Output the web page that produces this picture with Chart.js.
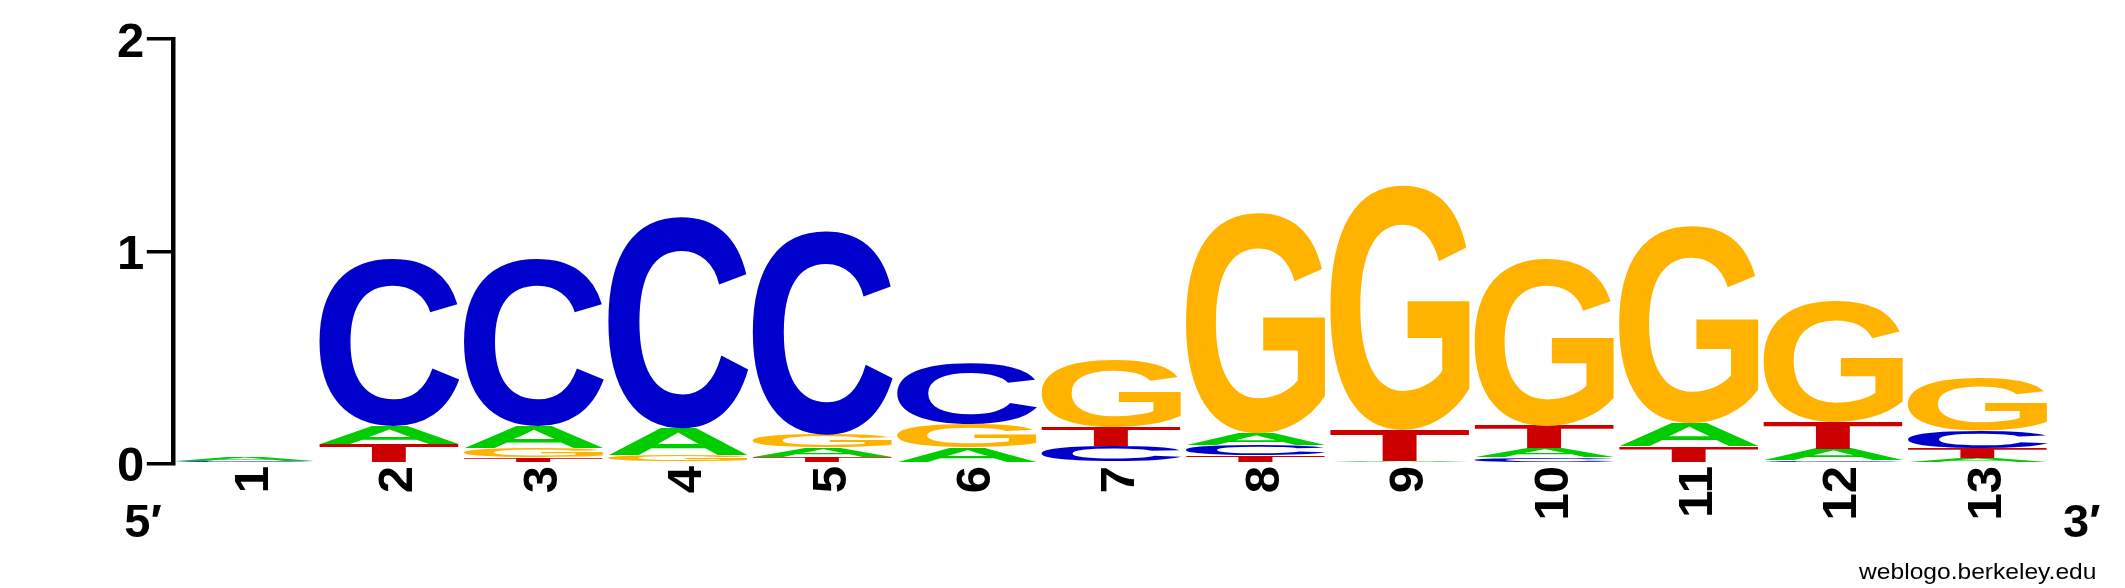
<!DOCTYPE html>
<html>
<head>
<meta charset="utf-8">
<script src="https://cdn.jsdelivr.net/npm/chart.js@4.4.1/dist/chart.umd.min.js"></script>
<style>
html,body{margin:0;padding:0;background:#fff;overflow:hidden}
#wrap{width:2125px;height:588px;position:relative}
canvas{display:block}
</style>
</head>
<body>
<div id="wrap"><canvas id="c" width="2125" height="588"></canvas></div>
<script>
// ---- data (bits per nucleotide at each position) ----
const positions = ['1','2','3','4','5','6','7','8','9','10','11','12','13'];
const bitsA = [0.020, 0.087, 0.103, 0.128, 0.045, 0.074, 0.010, 0.054, 0.014, 0.043, 0.109, 0.055, 0.024];
const bitsC = [0.012, 0.790, 0.790, 0.997, 0.960, 0.287, 0.074, 0.050, 0.000, 0.028, 0.000, 0.014, 0.081];
const bitsG = [0.000, 0.007, 0.045, 0.028, 0.060, 0.114, 0.317, 1.040, 1.154, 0.790, 0.930, 0.570, 0.247];
const bitsT = [0.000, 0.083, 0.028, 0.010, 0.030, 0.000, 0.089, 0.038, 0.144, 0.106, 0.081, 0.126, 0.047];
const yTicks = [0, 1, 2];
const endLabels = ['5\u2032', '3\u2032'];
const creditText = 'weblogo.berkeley.edu';

const letterColors = {A:'#00CC00', C:'#0000CC', G:'#FFB300', T:'#CC0000'};
const FONT = '"Liberation Sans", Arial, Helvetica, sans-serif';

// build stacked layers: each column sorted ascending (smallest at bottom)
const byLetter = {A:bitsA, C:bitsC, G:bitsG, T:bitsT};
const order = ['A','C','G','T'];
const layers = [0,1,2,3].map(() => ({data:[], letters:[]}));
positions.forEach((p, i) => {
  const entries = order.map(l => ({l, v: byLetter[l][i]}));
  entries.sort((a, b) => a.v - b.v);
  entries.forEach((e, k) => { layers[k].data.push(e.v); layers[k].letters.push(e.l); });
});

function drawLetter(ctx, L, x, y, w, h) {
  ctx.save();
  ctx.font = 'bold 200px ' + FONT;
  ctx.textAlign = 'left';
  ctx.textBaseline = 'alphabetic';
  const m = ctx.measureText(L);
  const gw = m.actualBoundingBoxLeft + m.actualBoundingBoxRight;
  const gh = m.actualBoundingBoxAscent + m.actualBoundingBoxDescent;
  ctx.translate(x, y);
  ctx.scale(w / gw, h / gh);
  ctx.fillStyle = letterColors[L];
  ctx.fillText(L, m.actualBoundingBoxLeft, m.actualBoundingBoxAscent);
  ctx.restore();
}

const logoPlugin = {
  id: 'logo',
  afterDatasetsDraw(chart) {
    const ctx = chart.ctx;
    chart.data.datasets.forEach((ds, d) => {
      const meta = chart.getDatasetMeta(d);
      meta.data.forEach((bar, i) => {
        const p = bar.getProps(['x', 'y', 'base', 'width'], true);
        const top = Math.min(p.y, p.base), bottom = Math.max(p.y, p.base);
        const h = bottom - top;
        if (!(h > 0.05)) return;
        drawLetter(ctx, ds.letters[i], p.x - p.width / 2, top, p.width, h);
      });
    });
  },
  afterDraw(chart) {
    const ctx = chart.ctx;
    const xs = chart.scales.x;
    const ys = chart.scales.y;
    const area = chart.chartArea;
    ctx.save();
    ctx.fillStyle = '#000';
    // y tick labels
    ctx.font = 'bold 49px ' + FONT;
    ctx.textAlign = 'right';
    ctx.textBaseline = 'alphabetic';
    yTicks.forEach(v => {
      ctx.fillText(String(v), area.left - 28.5, ys.getPixelForValue(v) + 17.8);
    });
    // rotated position labels
    positions.forEach((lab, i) => {
      const cx = xs.getPixelForValue(i);
      ctx.save();
      ctx.translate(cx + 23, area.bottom + 2.5);
      ctx.rotate(-Math.PI / 2);
      ctx.textAlign = 'right';
      ctx.textBaseline = 'alphabetic';
      ctx.fillText(lab, 0, 0);
      ctx.restore();
    });
    // 5' and 3' labels
    ctx.font = 'bold 47px ' + FONT;
    ctx.textAlign = 'left';
    ctx.textBaseline = 'alphabetic';
    ctx.fillText(endLabels[0], area.left - 48.5, area.bottom + 73.5);
    ctx.fillText(endLabels[1], area.right + 13, area.bottom + 73.5);
    // credit
    ctx.font = '22px ' + FONT;
    const m = ctx.measureText(creditText);
    const inkW = m.actualBoundingBoxLeft + m.actualBoundingBoxRight;
    ctx.translate(1858, 579);
    ctx.scale(237 / inkW, 1);
    ctx.fillText(creditText, m.actualBoundingBoxLeft, 0);
    ctx.restore();
  }
};

function build() {
  new Chart(document.getElementById('c'), {
    type: 'bar',
    data: {
      labels: positions,
      datasets: layers.map((ly, k) => ({
        label: 'layer' + k,
        data: ly.data,
        letters: ly.letters,
        backgroundColor: 'rgba(0,0,0,0)',
        borderWidth: 0,
        barPercentage: 0.9695,
        categoryPercentage: 1.0
      }))
    },
    options: {
      responsive: false,
      animation: false,
      devicePixelRatio: 1,
      layout: {padding: {left: 0, top: 39, right: 75, bottom: 124.5}},
      plugins: {legend: {display: false}, tooltip: {enabled: false}},
      scales: {
        x: {
          type: 'category',
          stacked: true,
          offset: true,
          grid: {display: false, drawTicks: false},
          border: {display: false},
          ticks: {display: false},
          afterFit(scale) { scale.height = 0; }
        },
        y: {
          stacked: true,
          min: 0,
          max: 2,
          position: 'left',
          afterBuildTicks(scale) { scale.ticks = yTicks.map(v => ({value: v})); },
          afterFit(scale) { scale.width = 172.8; },
          ticks: {display: false},
          grid: {display: true, drawOnChartArea: false, drawTicks: true, tickLength: 26, lineWidth: 3.5, color: '#000'},
          border: {display: true, width: 4.5, color: '#000'}
        }
      }
    },
    plugins: [logoPlugin]
  });
}

if (document.fonts && document.fonts.load) {
  Promise.all([
    document.fonts.load('bold 49px "Liberation Sans"'),
    document.fonts.load('22px "Liberation Sans"')
  ]).then(build, build);
} else {
  build();
}
</script>
</body>
</html>
